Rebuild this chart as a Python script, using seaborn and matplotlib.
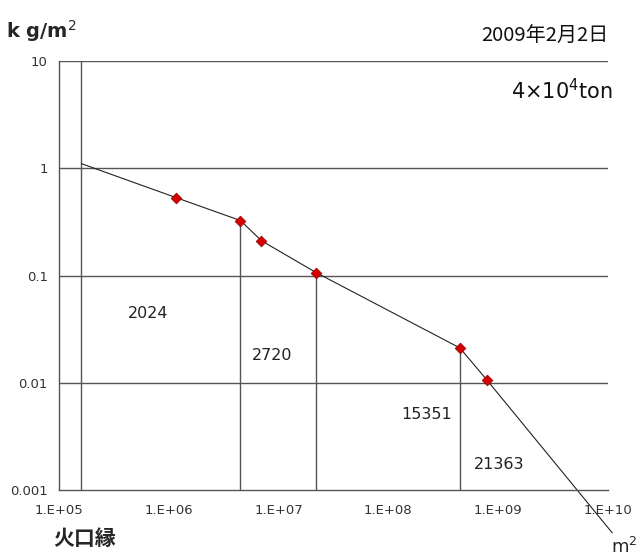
import matplotlib
matplotlib.use('Agg')
import matplotlib.pyplot as plt
import numpy as np
import pandas as pd
import seaborn as sns

# area (m^2) vs deposit load (kg/m^2)
rim_area = 1.6e5
line_area = [1.6e5, 1.16e6, 4.5e6, 7.0e6, 2.2e7, 4.5e8, 7.9e8, 1.1e10]
line_load = [1.11, 0.536, 0.327, 0.212, 0.107, 0.0212, 0.0107, 0.0004]
obs_area = [1.16e6, 4.5e6, 7.0e6, 2.2e7, 4.5e8, 7.9e8]
obs_load = [0.536, 0.327, 0.212, 0.107, 0.0212, 0.0107]
drop_area = [4.5e6, 2.2e7, 4.5e8]
drop_load = [0.327, 0.107, 0.0212]
seg_labels = ['2024', '2720', '15351', '21363']
seg_x = [6.5e5, 8.8e6, 2.26e8, 1.02e9]
seg_y = [0.044, 0.018, 0.0051, 0.00175]
y_ticks = [0.001, 0.01, 0.1, 1, 10]
y_ticklabels = ['0.001', '0.01', '0.1', '1', '10']
x_ticks = [1e5, 1e6, 1e7, 1e8, 1e9, 1e10]
x_ticklabels = ['1.E+05', '1.E+06', '1.E+07', '1.E+08', '1.E+09', '1.E+10']

sns.set_style('white')
plt.rcParams['font.family'] = ['DejaVu Sans', 'Noto Sans CJK JP']

fig = plt.figure(figsize=(6.38, 5.57), dpi=100)
ax = fig.add_axes([0.0925, 0.12, 0.86, 0.77])
ax.set_xscale('log')
ax.set_yscale('log')
ax.set_xlim(1e5, 1e10)
ax.set_ylim(1e-3, 10)

grid_col = '#555555'
for yv in y_ticks[1:]:
    ax.axhline(yv, color=grid_col, lw=1.0, zorder=1)
ax.axvline(rim_area, color=grid_col, lw=1.0, zorder=1)
for xv, yv in zip(drop_area, drop_load):
    ax.plot([xv, xv], [1e-3, yv], color=grid_col, lw=1.0, zorder=1)

df_line = pd.DataFrame({'area': line_area, 'load': line_load})
sns.lineplot(data=df_line, x='area', y='load', ax=ax, color='#222222', lw=0.8,
             sort=False, estimator=None, zorder=2, clip_on=False)
df_obs = pd.DataFrame({'area': obs_area, 'load': obs_load})
sns.scatterplot(data=df_obs, x='area', y='load', ax=ax, marker='D', s=30,
                color='#d40000', edgecolor='#900000', linewidth=0.5, zorder=3)

for lab, xv, yv in zip(seg_labels, seg_x, seg_y):
    ax.text(xv, yv, lab, fontsize=11.5, ha='center', va='center', color='#222222')

ax.set_xticks(x_ticks)
ax.set_xticklabels(x_ticklabels)
ax.set_yticks(y_ticks)
ax.set_yticklabels(y_ticklabels)
ax.minorticks_off()
ax.tick_params(axis='x', direction='in', length=4, width=1, color=grid_col,
               labelsize=9.5, labelcolor='#333333', pad=10)
ax.tick_params(axis='y', length=0, labelsize=9.5, labelcolor='#333333', pad=8)
ax.set_xlabel('')
ax.set_ylabel('')
for side in ['top', 'right']:
    ax.spines[side].set_visible(False)
for side in ['left', 'bottom']:
    ax.spines[side].set_color(grid_col)
    ax.spines[side].set_linewidth(1.0)

fig.text(0.01, 0.945, 'k g/m$^2$', fontsize=14, fontweight='bold', ha='left', va='center')
fig.text(0.953, 0.935, '2009年2月2日', fontsize=14.5, ha='right', va='center',
         family=['Noto Sans CJK JP', 'DejaVu Sans'], color='#111111')
fig.text(0.96, 0.838, '4×10$^4$ton', fontsize=15, ha='right', va='center', color='#111111')
fig.text(0.083, 0.034, '火口縁', fontsize=15, fontweight='bold', ha='left', va='center',
         family=['Noto Sans CJK JP', 'DejaVu Sans'])
fig.text(0.958, 0.018, 'm$^2$', fontsize=13, ha='left', va='center')

fig.savefig('out.png', dpi=100)
